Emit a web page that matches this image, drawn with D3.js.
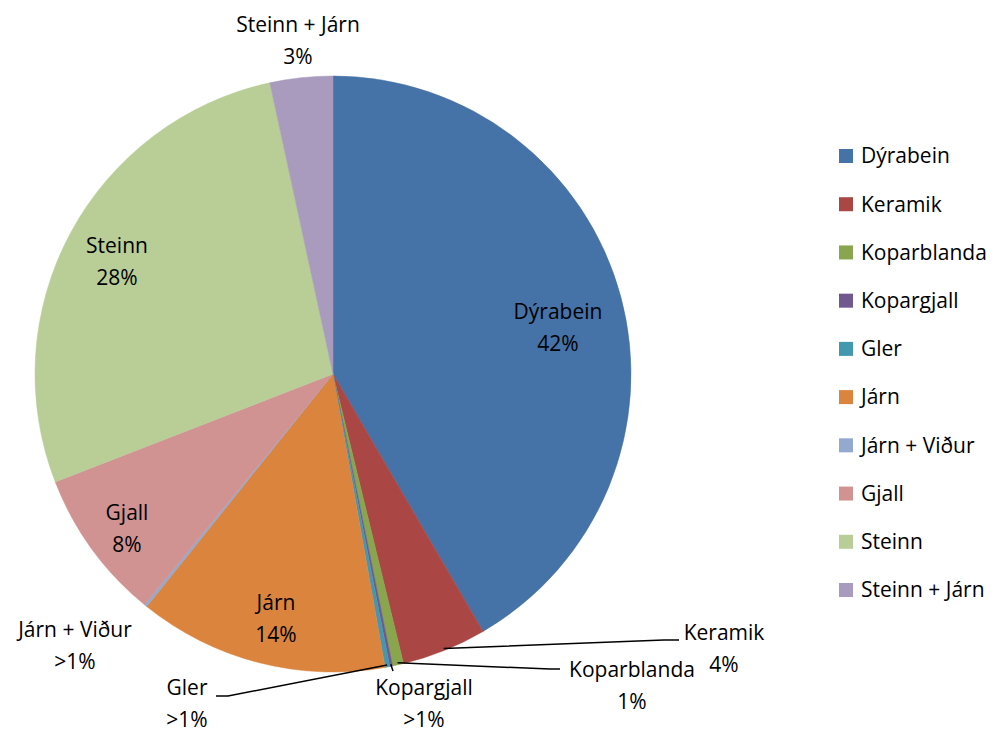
<!DOCTYPE html>
<html>
<head>
<meta charset="utf-8">
<script src="https://cdn.jsdelivr.net/npm/d3@7"></script>
<style>
  body { margin: 0; background: #fff; }
  svg text { font-family: "Open Sans", Lato, sans-serif; fill: #000; }
</style>
</head>
<body>
<svg id="chart" width="1004" height="732"></svg>
<script>
// Flokkar og hlutföll (lesið af myndinni)
const categories = ["Dýrabein", "Keramik", "Koparblanda", "Kopargjall", "Gler",
  "Járn", "Járn + Viður", "Gjall", "Steinn", "Steinn + Járn"]
const values = [41.6, 4.6, 0.6, 0.15, 0.25, 13.55, 0.15, 8.2, 27.5, 3.4]
const pctLabels = ["42%", "4%", "1%", ">1%", ">1%", "14%", ">1%", "8%", "28%", "3%"]
const colors = ["#4572a7", "#aa4643", "#89a54e", "#71588f", "#4198af",
  "#db843d", "#93a9cf", "#d19392", "#b9cd96", "#a99bbd"]

// Staðsetning merkja, leader = lína út í sneið
const labelPos = [
  {x: 558, y: 312},
  {x: 724, y: 633, leader: [[679, 640], [664, 640]]},
  {x: 632, y: 670, leader: [[560, 669], [550, 669]]},
  {x: 424, y: 688, leader: [[393, 671]]},
  {x: 187, y: 688, leader: [[216, 696], [228, 696]]},
  {x: 276, y: 603},
  {x: 75, y: 630},
  {x: 127, y: 513},
  {x: 117, y: 246},
  {x: 298, y: 25}
]

const cx = 333, cy = 374, radius = 298
const svg = d3.select("#chart")

const pie = d3.pie().sort(null).value(d => d).startAngle(0).endAngle(2 * Math.PI)
const arcs = pie(values)
const arc = d3.arc().innerRadius(0).outerRadius(radius)

const g = svg.append("g").attr("transform", `translate(${cx},${cy})`)
g.selectAll("path")
  .data(arcs)
  .enter()
  .append("path")
  .attr("d", arc)
  .attr("fill", (d, i) => colors[i])
  .attr("stroke", (d, i) => colors[i])
  .attr("stroke-width", 0.5)

// Línur út í litlar sneiðar
const edgeArc = d3.arc().innerRadius(radius - 2).outerRadius(radius - 2)
arcs.forEach((a, i) => {
  const lp = labelPos[i]
  if (!lp.leader) return
  const c = edgeArc.centroid(a)
  const pts = lp.leader.concat([[c[0] + cx, c[1] + cy]])
  svg.append("path")
    .attr("d", d3.line()(pts))
    .attr("fill", "none")
    .attr("stroke", "#000")
    .attr("stroke-width", 1.5)
})

// Merki
const fontSize = 21
categories.forEach((name, i) => {
  const lp = labelPos[i]
  const t = svg.append("text")
    .attr("text-anchor", "middle")
    .attr("font-size", fontSize)
  t.append("tspan").attr("x", lp.x).attr("y", lp.y).attr("dy", "0.35em").text(name)
  t.append("tspan").attr("x", lp.x).attr("y", lp.y + 32).attr("dy", "0.35em").text(pctLabels[i])
})

// Skýringar
const legendY = d3.scalePoint().domain(categories).range([156, 590])
const legend = svg.append("g")
categories.forEach((name, i) => {
  legend.append("rect")
    .attr("x", 839).attr("y", legendY(name) - 7)
    .attr("width", 14).attr("height", 14)
    .attr("fill", colors[i])
  legend.append("text")
    .attr("x", 861).attr("y", legendY(name))
    .attr("dy", "0.35em")
    .attr("font-size", fontSize)
    .text(name)
})
</script>
</body>
</html>
